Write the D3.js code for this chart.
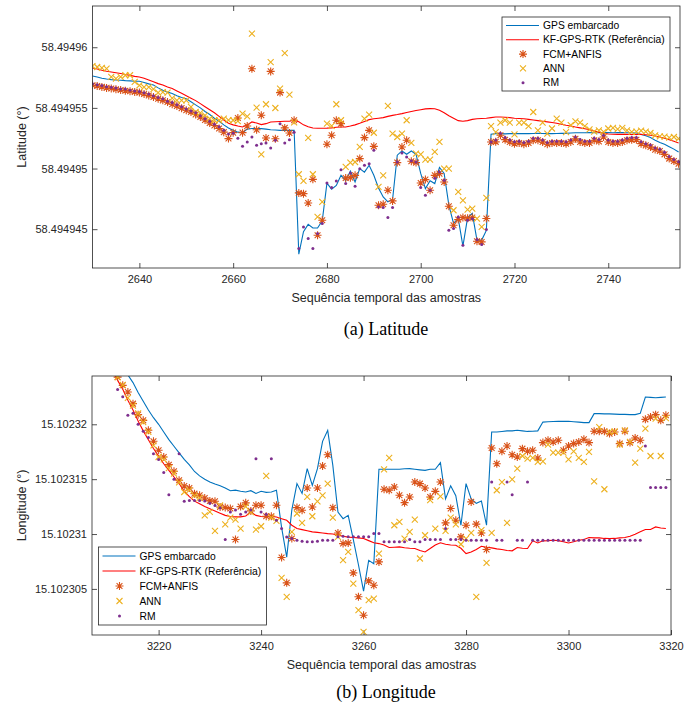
<!DOCTYPE html>
<html>
<head>
<meta charset="utf-8">
<script src="https://cdn.jsdelivr.net/npm/d3@7/dist/d3.min.js"></script>
<style>
body{margin:0;background:#fff;}
svg{font-family:"Liberation Sans",Arial,sans-serif;}
.tick text{fill:#262626;font-size:11px;}
.domain{display:none;}
.tick line{stroke:#262626;stroke-width:0.8;}
.label{fill:#262626;font-size:12.5px;}
.caption{font-family:"Liberation Serif","Times New Roman",serif;font-size:18px;fill:#000;}
.legend text{fill:#000;font-size:10.3px;}
</style>
</head>
<body>
<svg id="chart"></svg>
<script>
// readings are in units of 1e-7 degree above a base value

// (a) latitude, samples 2630..2755
var latStart = 2630;
var latBase = 58.49494;
var latTicksX = [2640,2660,2680,2700,2720,2740];
var latTicksY = [58.494945,58.49495,58.494955,58.49496];

var latGps = [176.3,175.5,174.5,173.8,173.3,173,172.8,172.5,172.3,172,
171.9,171,169.8,168.8,166.5,164.5,163,161.8,160,158.5,
157.5,155,152.5,150,147,144.5,141.5,139,136,133.5,
131.5,130,129.6,132.5,133,133,132.9,132.5,132,131.8,
131.5,131.5,131.5,131.5,29.4,48,54,51,51,57,
88,83,86,94.5,90,98,89,100,97,102.7,
94.5,84,76.6,72.5,74.5,111,114.5,111.8,114.5,111.8,
96,83.5,90,87.6,101,96,69.8,54.7,58.8,36,
59.6,63,41,41,49,128.3,128.8,128.8,128.6,128.8,
128.8,128.9,128.8,128.8,128.9,129,128.9,128.8,128.8,128.9,
129,129,129.3,129.5,129.5,129.5,129.6,129.5,129.5,129.6,
129.6,129.5,129.6,129.6,129.5,129.5,129.3,128,127,125.5,
123.3,121.5,120,118,116,113.7];

var latKf = [182.9,182,181,180.2,179.6,179,178.3,177.5,176.8,176,
175.5,174.5,173,171.5,170,168.8,167.2,166,164,162,
160,158,156,153.5,151,148.5,146,143,140,137.3,
136,135,134.3,136,138.4,137.5,136.2,137,138.4,138.6,
138.8,139,139,139.8,138.5,136,134.5,133.4,133.2,133.2,
133.3,133.5,134,134.2,134.3,135,136,137.3,138.8,140.3,
141,141.5,142,143,143.8,144.5,145.3,146.2,147,147.8,
148.5,149.2,149.4,149.3,148,146,143.5,141.5,139.5,139,
139.5,140.5,141,141.3,141.5,142,142.5,142.5,142.3,142,
141.5,141.3,141,140.5,140,139.5,139,138.5,138,137.3,
136.5,135.7,135,134.2,133.5,132.8,132,131,130,129,
128.5,128.3,128.2,128.2,128.2,128,128,128.2,127.8,127.4,
126.8,126,125,123.8,122.5,121.1];

var latFcm = [168.6,168,167.3,166.5,166,165.3,164.8,164.2,163.7,163.2,
162.6,161.5,160.2,159,157.5,156.2,154.8,153,151.5,149.8,
148,146.6,144.5,142.5,140,137.5,135.5,133,130,124.7,
129.6,141.7,129.6,135.1,182.3,132,143.9,125.2,180.1,124.6,
162.6,133.5,129.3,139.8,79.9,79.3,71.6,91.1,45,57.4,
120,127.4,139.8,137,92.2,92.5,94.4,108.2,125.5,131.5,
118.3,69.7,70.5,82.1,73.3,104.9,117.8,123.3,106,104.9,
88.1,90.9,82.1,94.4,95.8,88.9,68.9,53.2,57.9,59.6,
59,59.6,40,39.5,58.8,121.9,122,127.4,123.8,121.9,
120.5,121,120,121,123.3,123.3,121.9,120,121,121,
121,120.5,121.9,124.6,121.9,121,121,123.3,122.4,126,
121.9,121,121,121.9,123.3,123.8,123.8,120.5,119.1,117.8,
115.6,114.5,111.7,108.2,106.2,104];

var latAnn = [184.5,183.7,183,182.3,175.5,174.1,175.5,176.9,176.9,171.4,
168.6,167.2,167.2,165.5,162.6,163,162.6,158,156.2,156.2,
156.2,150.8,146.6,145.9,143.9,141.1,139.8,139.8,141.1,140,
139.8,139,145.3,143,211.2,150.2,111.7,153,187.8,149.9,
165.9,195.2,160.9,138,95.3,89.8,125.2,95.3,60.1,72.5,
137,135.1,153,139.8,101.3,104.9,105.4,117.8,141.1,144.4,
129.5,84.8,94.4,151.6,128.8,126,128.8,139.8,121.1,112.3,
111.7,107.3,107.3,113.7,121.9,99.9,99.9,65.6,80.7,73.8,
66.2,67,58.7,51.9,75.8,135,130,137.9,139.8,137.9,
128.2,137.9,137.9,135,146.6,131.5,137.9,128.8,133,141.1,
137.9,130,135.7,138.9,137.9,135,132.2,130.5,131.5,130.3,
133,133.5,132.5,133.5,131.5,130.2,130.5,131.3,130.5,129.3,
127.4,126.5,126.3,125.5,126,124.6];

var latRm = [170,169,168.5,167.5,167,166.5,165.5,165.5,164.5,164,
163.5,162.5,161.5,160,158.5,157.5,155.5,154.5,152.5,151,
149,147.5,146,143.5,141,139,136.5,134.5,131.5,128.5,
129,125,118.3,121.9,126,119.1,120.5,121.1,117,123.3,
137,121.1,123.8,130,34,51.9,42.3,34,46.4,54.6,
88.1,84.3,89.8,99.1,87.6,96.4,85.4,99.9,102.7,104,
115,68.3,67.8,59.6,67.8,105.4,112.8,109.5,106.5,105.4,
84.3,78,82,92,97.2,90.3,49.1,50.5,60.1,36.8,
57.4,58.7,41.5,37.3,49.7,121.9,123.5,129,125.5,123.5,
122,122.5,121.5,122.5,125,125,123.5,121.5,122.5,122.5,
122.5,122,123.5,126,124,122.5,122.5,125,124,127.5,
123.5,122.5,122.5,123.5,125,125.5,125.5,122,120.5,119.5,
117,116,113.5,110,107.5,105.5];

// (b) longitude, samples 3211..3319
var lonStart = 3211;
var lonBase = 15.1023;
var lonTicksX = [3220,3240,3260,3280,3300,3320];
var lonTicksY = [15.102305,15.10231,15.102315,15.10232];

var lonGps = [262,256,250,245,238,229,221,213,206,200,
193,186,180,174,168,163,157,153,150,147.5,
145.5,144,142,139.5,140,139,138.3,139.5,137,139,
138,138.3,140,106,79,122,146,137,159.6,144.4,
159.6,184.5,194.5,162.6,120,114,117,95,72,48,
76,73,159,159,159,159,159,159.5,159.6,159,
158.5,158,159,159,165,132,144,135,108,146,
132,128,130,108,193,193,193.5,194,194,194.5,
194,193.5,193.6,194,202,202.3,202.5,202.7,202.7,202.7,
202.3,202,201.5,201.5,209.7,209.7,209.5,209.5,209.3,209,
209,208.8,208.8,210,224.9,224.5,224.2,224.5,224.9];

var lonKf = [250,240,232,222,213,203,194,186,178,171,
164,158,152,146,139,134,130,127.5,125,123,
121,119,117,116,115.6,115.6,116.5,120,117,116,
115.5,116,115.5,114,112.5,108,105,104,103,102,
101.5,101,100.4,100,99,98,97.2,96.8,96.5,95.9,
94,92,91.3,90,87.7,88,88.3,87.5,87,86.8,
85,83.7,86.8,90,92,90.7,90,89.8,87,82.2,
83.7,86,88.9,88,87.4,86.5,85.9,85,84.7,87.7,
87,86.8,93.8,91.9,93.8,94,94.4,94,93,91.9,
93,94.4,95,96.8,96.5,96.5,96,95.9,96,96.5,
96.8,98,99.8,102,104.1,104.1,106.5,105.5,105];

var lonFcm = [252,243,235.5,229.4,218.8,208.8,203.6,194.5,184.5,176.3,
170.2,163.2,157.2,149,143.8,142,136.8,135.3,132.9,130.2,
129.9,124.7,124.1,123.2,95,125,128.4,121.1,126.2,126.2,
116.2,116.2,126.2,78.6,55.5,95.9,124.1,121.7,142,124.7,
142,162,172.3,124,101,91.3,91.9,64.6,42.8,26,
57.3,53.4,74.6,140.8,139.9,142.9,135.3,128.6,133.8,147.4,
145.9,142,133.8,138.9,147.4,110.2,123.2,112.6,97.4,108,
129.3,109,101,85.9,178.4,164.1,175.4,180.2,172.3,170.2,
177.8,175.4,176.3,169.3,183.3,185.4,183.9,185.4,176.3,180.2,
182.4,183.9,186.3,183.3,193.6,193.6,193.6,191.5,193,182.4,
193.6,183.3,187.5,185.4,204.5,206.6,208.8,203.6,208.2];

var lonAnn = [252,243,236,224,217,210,202,193,180.8,170.2,
168,160,155,147,138.3,140,135,133,117.1,120.2,
102.9,126,108.9,115,113.2,105,125,120,104.1,107.1,
152.9,115,112,60,42.8,102,118.7,110.2,133.8,116.2,
129.8,135.3,145.9,115,97.4,76.2,83.7,54.9,30.6,10.9,
39.7,41.2,82.2,159,169.3,108,111,95.9,102,113.2,
77.7,98.9,130.8,105,134.4,102.9,115,108.9,90.7,95.9,
101,42.8,103.5,73.7,101,139.9,147.4,110.2,149.9,159.6,
171.1,168.7,169.3,165.7,166.3,181.4,174.2,174.2,174.2,168.1,
175.4,169.3,165.7,174.8,148,197.5,140.8,193,193.6,181.4,
194.5,183.9,165.1,177.8,196,171.1,205.1,171.1,205.7];

var lonRm = [250,231.8,225,208.2,210,200,193.6,188,173.2,168,
156,135.9,150,173.2,129.8,130.5,130.5,130.5,130.2,128,
126,124,95,120,122,118,120,122,168.7,120,
118,168.7,112.6,105,97.4,96,94.4,93.5,92.9,92.9,
93.5,94.4,94.4,94.4,97.5,98,97.5,97.5,97.5,97.5,
97.5,100.4,100.4,92.9,92.9,92.9,92.9,92.9,95,92.9,
92.9,95,95,95,95,105,95,95,95,94.4,
94.4,94.4,94.4,94.4,147.4,94.4,94.4,147.4,135.9,94.4,
94.4,147.4,94.4,94.4,94.4,94.4,94.4,94.4,94.4,94.4,
94.4,94.4,94.4,94.4,94.4,94.4,94.4,94.4,94.4,94.4,
94.4,94.4,94.4,94.4,180.2,142.3,142.3,142.3,142.3];

var seriesNames = ["GPS embarcado","KF-GPS-RTK (Referência)","FCM+ANFIS","ANN","RM"];
var seriesColors = ["#0072BD","#FF0000","#D95319","#EDB120","#7E2F8E"];
var seriesKinds = ["line","line","star","cross","dot"];

var screen = {width:691, height:707};

var svg = d3.select("#chart")
    .attr("width",screen.width)
    .attr("height",screen.height);

//turn a list of readings into points
var toPoints = function(values,start,base)
{
    return values.map(function(u,i){
        return {t:start+i, v:base+u*1e-7};
    });
}

var markerPath = function(kind)
{
    if(kind=="star")
    {
        var r = 4, d = 2.9;
        return "M"+(-r)+",0L"+r+",0M0,"+(-r)+"L0,"+r+
               "M"+(-d)+","+(-d)+"L"+d+","+d+"M"+(-d)+","+d+"L"+d+","+(-d);
    }
    var c = 3;
    return "M"+(-c)+","+(-c)+"L"+c+","+c+"M"+(-c)+","+c+"L"+c+","+(-c);
}

var drawPanel = function(panel)
{
    var xScale = d3.scaleLinear()
        .domain(panel.xDomain)
        .range([panel.box.left,panel.box.right]);
    var yScale = d3.scaleLinear()
        .domain(panel.yDomain)
        .range([panel.box.bottom,panel.box.top]);

    var g = svg.append("g").classed("panel",true);

    g.append("clipPath")
        .attr("id",panel.id+"clip")
        .append("rect")
        .attr("x",panel.box.left)
        .attr("y",panel.box.top)
        .attr("width",panel.box.right-panel.box.left)
        .attr("height",panel.box.bottom-panel.box.top);

    var fmtY = d3.format(".6~f");

    //axes, ticks inside the box on all four sides
    g.append("g")
        .attr("transform","translate(0,"+panel.box.bottom+")")
        .call(d3.axisBottom(xScale).tickValues(panel.ticksX)
              .tickSize(-5).tickPadding(7).tickFormat(d3.format("d")));
    g.append("g")
        .attr("transform","translate(0,"+panel.box.top+")")
        .call(d3.axisTop(xScale).tickValues(panel.ticksX)
              .tickSize(-5).tickFormat(""));
    g.append("g")
        .attr("transform","translate("+panel.box.left+",0)")
        .call(d3.axisLeft(yScale).tickValues(panel.ticksY)
              .tickSize(-5).tickPadding(5).tickFormat(fmtY));
    g.append("g")
        .attr("transform","translate("+panel.box.right+",0)")
        .call(d3.axisRight(yScale).tickValues(panel.ticksY)
              .tickSize(-5).tickFormat(""));

    var plot = g.append("g")
        .attr("clip-path","url(#"+panel.id+"clip)");

    var lineGenerator = d3.line()
        .x(function(p){return xScale(p.t);})
        .y(function(p){return yScale(p.v);});

    panel.series.forEach(function(s,k)
    {
        var pts = toPoints(s,panel.start,panel.base);
        var kind = seriesKinds[k];
        if(kind=="line")
        {
            plot.append("path")
                .datum(pts)
                .attr("fill","none")
                .attr("stroke",seriesColors[k])
                .attr("stroke-width",1.1)
                .attr("d",lineGenerator);
        }
        else if(kind=="dot")
        {
            plot.append("g").selectAll("circle")
                .data(pts)
                .enter()
                .append("circle")
                .attr("cx",function(p){return xScale(p.t);})
                .attr("cy",function(p){return yScale(p.v);})
                .attr("r",1.5)
                .attr("fill",seriesColors[k]);
        }
        else
        {
            plot.append("g").selectAll("path")
                .data(pts)
                .enter()
                .append("path")
                .attr("transform",function(p){
                    return "translate("+xScale(p.t)+","+yScale(p.v)+")";})
                .attr("d",markerPath(kind))
                .attr("fill","none")
                .attr("stroke",seriesColors[k])
                .attr("stroke-width",1.1);
        }
    });

    //box
    g.append("rect")
        .attr("x",panel.box.left)
        .attr("y",panel.box.top)
        .attr("width",panel.box.right-panel.box.left)
        .attr("height",panel.box.bottom-panel.box.top)
        .attr("fill","none")
        .attr("stroke","#262626")
        .attr("stroke-width",0.8);

    //labels
    g.append("text")
        .classed("label",true)
        .attr("text-anchor","middle")
        .attr("x",(panel.box.left+panel.box.right)/2)
        .attr("y",panel.box.bottom+34)
        .text("Sequência temporal das amostras");
    g.append("text")
        .classed("label",true)
        .attr("text-anchor","middle")
        .attr("transform","translate(26,"+((panel.box.top+panel.box.bottom)/2)+") rotate(-90)")
        .text(panel.yLabel);
    g.append("text")
        .classed("caption",true)
        .attr("text-anchor","middle")
        .attr("x",386)
        .attr("y",panel.captionY)
        .text(panel.caption);

    //legend
    var lg = g.append("g").classed("legend",true);
    var L = panel.legend;
    lg.append("rect")
        .attr("x",L.x).attr("y",L.y)
        .attr("width",L.w).attr("height",L.h)
        .attr("fill","#fff")
        .attr("stroke","#262626")
        .attr("stroke-width",0.8);
    seriesNames.forEach(function(name,k)
    {
        var yy = L.y+L.first+k*L.step;
        var kind = seriesKinds[k];
        if(kind=="line")
        {
            lg.append("line")
                .attr("x1",L.x+4).attr("x2",L.x+37)
                .attr("y1",yy).attr("y2",yy)
                .attr("stroke",seriesColors[k])
                .attr("stroke-width",1.1);
        }
        else if(kind=="dot")
        {
            lg.append("circle")
                .attr("cx",L.x+21).attr("cy",yy).attr("r",1.5)
                .attr("fill",seriesColors[k]);
        }
        else
        {
            lg.append("path")
                .attr("transform","translate("+(L.x+21)+","+yy+")")
                .attr("d",markerPath(kind))
                .attr("fill","none")
                .attr("stroke",seriesColors[k])
                .attr("stroke-width",1.1);
        }
        lg.append("text")
            .attr("x",L.x+41)
            .attr("y",yy)
            .attr("dy","0.35em")
            .text(name);
    });
}

drawPanel({
    id:"lat",
    start:latStart, base:latBase,
    series:[latGps,latKf,latFcm,latAnn,latRm],
    xDomain:[2630,2755.3],
    yDomain:[58.4949418,58.4949634],
    ticksX:latTicksX, ticksY:latTicksY,
    box:{left:92.5,right:680,top:6,bottom:268},
    yLabel:"Latitude (°)",
    caption:"(a)  Latitude",
    captionY:335,
    legend:{x:502,y:17,w:168,h:74,first:8.5,step:14.3}
});

drawPanel({
    id:"lon",
    start:lonStart, base:lonBase,
    series:[lonGps,lonKf,lonFcm,lonAnn,lonRm],
    xDomain:[3207,3320],
    yDomain:[15.1023008,15.1023244],
    ticksX:lonTicksX, ticksY:lonTicksY,
    box:{left:92,right:671,top:376,bottom:635},
    yLabel:"Longitude (°)",
    caption:"(b)  Longitude",
    captionY:698,
    legend:{x:98.5,y:547,w:168,h:78,first:9,step:15}
});
</script>
</body>
</html>
